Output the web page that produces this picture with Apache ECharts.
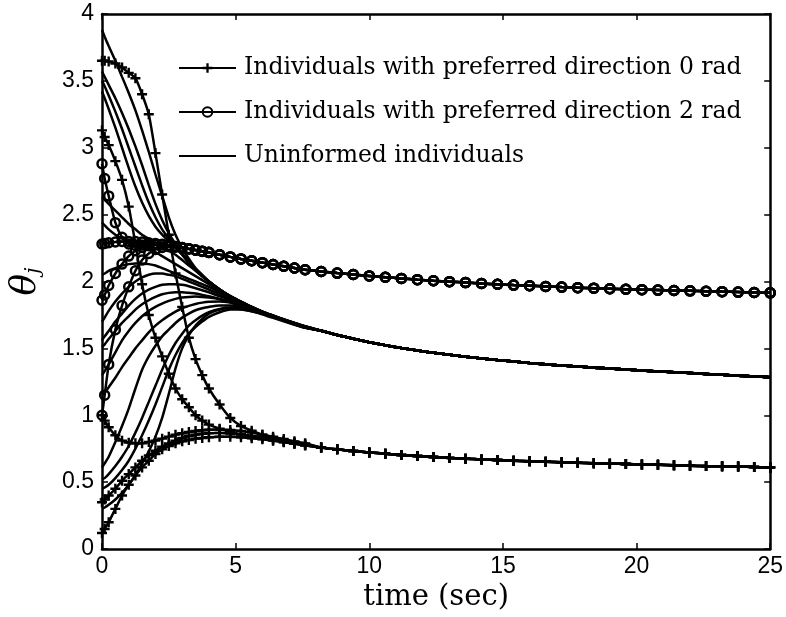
<!DOCTYPE html>
<html><head><meta charset="utf-8">
<script src="https://cdn.jsdelivr.net/npm/echarts@6/dist/echarts.min.js"></script>
<style>html,body{margin:0;padding:0;background:#fff}#c{width:786px;height:617px}</style>
</head><body><div id="c"></div>
<script>
// time samples (sec)
const T_EARLY = [0,0.1,0.25,0.5,0.75,1,1.25,1.5,1.75,2,2.25,2.5,2.75,3,3.25,3.5,3.75,4,4.4,4.8,5.2,5.6,6,6.4,6.8,7.2,7.6];
const T_LATE = [8.2,8.8,9.4,10.0,10.6,11.2,11.8,12.4,13.0,13.6,14.2,14.8,15.4,16.0,16.6,17.2,17.8,18.4,19.0,19.6,20.2,20.8,21.4,22.0,22.6,23.2,23.8,24.4,25.0];

// group tails after consensus (values at T_LATE)
const UNINF_TAIL = [1.632,1.6,1.572,1.546,1.523,1.503,1.484,1.467,1.452,1.438,1.425,1.413,1.402,1.391,1.381,1.372,1.364,1.356,1.349,1.342,1.335,1.328,1.322,1.316,1.309,1.302,1.296,1.29,1.284];
const PLUS_TAIL = [0.758,0.745,0.733,0.722,0.712,0.703,0.695,0.688,0.681,0.675,0.67,0.665,0.66,0.656,0.652,0.648,0.644,0.641,0.638,0.635,0.632,0.629,0.626,0.623,0.62,0.618,0.616,0.613,0.61];
const CIRC_TAIL = [2.075,2.063,2.052,2.042,2.032,2.023,2.014,2.006,1.999,1.992,1.985,1.979,1.973,1.968,1.963,1.958,1.954,1.95,1.946,1.942,1.939,1.936,1.933,1.93,1.927,1.924,1.921,1.918,1.915];

// informed, preferred direction 0 rad (values at T_EARLY)
const P1 = [3.65,3.65,3.645,3.63,3.6,3.56,3.52,3.4,3.25,2.96,2.65,2.35,2.06,1.81,1.58,1.42,1.3,1.2,1.08,0.98,0.92,0.885,0.855,0.83,0.81,0.79,0.775];
const P2 = [3.13,3.08,3.02,2.9,2.76,2.56,2.28,1.98,1.75,1.58,1.44,1.31,1.2,1.12,1.06,1.0,0.96,0.93,0.9,0.875,0.858,0.843,0.828,0.814,0.8,0.787,0.775];
const P3 = [1.0,0.96,0.91,0.85,0.81,0.795,0.79,0.79,0.8,0.81,0.825,0.84,0.855,0.865,0.875,0.882,0.888,0.892,0.893,0.89,0.882,0.87,0.855,0.84,0.822,0.805,0.79];
const P4 = [0.12,0.15,0.2,0.3,0.4,0.48,0.55,0.61,0.66,0.71,0.745,0.77,0.79,0.805,0.815,0.825,0.83,0.835,0.84,0.84,0.835,0.828,0.82,0.81,0.798,0.786,0.775];
const P5 = [0.35,0.37,0.4,0.45,0.51,0.56,0.61,0.66,0.7,0.735,0.765,0.79,0.81,0.83,0.845,0.855,0.862,0.866,0.868,0.864,0.856,0.846,0.835,0.822,0.81,0.797,0.785];

// informed, preferred direction 2 rad
const C1 = [2.28,2.285,2.29,2.295,2.3,2.3,2.3,2.295,2.29,2.285,2.278,2.27,2.262,2.254,2.245,2.236,2.227,2.218,2.2,2.184,2.169,2.155,2.141,2.127,2.114,2.101,2.088];
const C2 = [2.88,2.77,2.64,2.44,2.33,2.28,2.27,2.272,2.275,2.277,2.274,2.268,2.26,2.252,2.244,2.235,2.226,2.217,2.2,2.184,2.169,2.155,2.141,2.127,2.114,2.101,2.088];
const C3 = [1.0,1.15,1.38,1.64,1.82,1.96,2.08,2.16,2.21,2.24,2.255,2.26,2.257,2.25,2.243,2.234,2.225,2.216,2.2,2.184,2.169,2.155,2.141,2.127,2.114,2.101,2.088];
const C4 = [1.86,1.9,1.97,2.06,2.13,2.19,2.23,2.255,2.268,2.274,2.274,2.269,2.262,2.254,2.245,2.236,2.227,2.218,2.2,2.184,2.169,2.155,2.141,2.127,2.114,2.101,2.088];

// uninformed individuals
const U1 = [3.88,3.83,3.76,3.65,3.53,3.41,3.28,3.13,2.97,2.8,2.64,2.48,2.35,2.25,2.17,2.1,2.05,2.0,1.94,1.89,1.85,1.81,1.775,1.745,1.715,1.69,1.665];
const U2 = [3.57,3.53,3.47,3.37,3.26,3.14,3.01,2.87,2.72,2.58,2.46,2.36,2.28,2.21,2.15,2.09,2.04,2.0,1.94,1.89,1.85,1.81,1.775,1.745,1.715,1.688,1.66];
const U3 = [3.5,3.46,3.39,3.27,3.14,3.0,2.86,2.72,2.59,2.48,2.39,2.32,2.26,2.2,2.14,2.09,2.04,2.0,1.94,1.89,1.848,1.81,1.775,1.743,1.713,1.686,1.66];
const U4 = [3.42,3.37,3.29,3.15,3.0,2.85,2.71,2.59,2.49,2.41,2.35,2.3,2.25,2.2,2.14,2.09,2.04,2.0,1.94,1.89,1.845,1.806,1.772,1.741,1.712,1.685,1.66];
const U5 = [2.63,2.61,2.58,2.53,2.48,2.43,2.39,2.35,2.32,2.29,2.26,2.23,2.2,2.16,2.12,2.08,2.04,2.0,1.94,1.89,1.845,1.805,1.77,1.74,1.712,1.685,1.658];
const U6 = [2.44,2.42,2.39,2.35,2.32,2.3,2.28,2.26,2.24,2.22,2.19,2.16,2.13,2.1,2.07,2.04,2.01,1.98,1.93,1.88,1.84,1.8,1.765,1.735,1.708,1.682,1.657];
const U7 = [2.05,2.06,2.08,2.1,2.12,2.13,2.135,2.135,2.13,2.12,2.1,2.08,2.06,2.04,2.02,2.0,1.98,1.96,1.92,1.88,1.84,1.805,1.77,1.74,1.712,1.684,1.657];
const U8 = [1.7,1.73,1.78,1.85,1.91,1.96,2.0,2.03,2.05,2.06,2.06,2.05,2.04,2.02,2.0,1.98,1.96,1.94,1.905,1.87,1.835,1.8,1.767,1.737,1.709,1.682,1.656];
const U9 = [1.56,1.59,1.63,1.7,1.76,1.82,1.87,1.91,1.94,1.96,1.975,1.98,1.98,1.975,1.965,1.95,1.935,1.92,1.89,1.86,1.826,1.795,1.764,1.735,1.707,1.68,1.655];
const U10 = [1.51,1.53,1.57,1.63,1.69,1.74,1.79,1.83,1.86,1.885,1.905,1.915,1.92,1.92,1.915,1.91,1.9,1.89,1.87,1.845,1.815,1.785,1.755,1.728,1.702,1.677,1.654];
const U11 = [1.3,1.33,1.38,1.47,1.56,1.63,1.69,1.74,1.78,1.81,1.835,1.855,1.87,1.88,1.885,1.887,1.885,1.88,1.868,1.85,1.826,1.799,1.77,1.742,1.715,1.688,1.656];
const U12 = [1.15,1.17,1.21,1.28,1.36,1.43,1.5,1.56,1.62,1.67,1.71,1.745,1.775,1.8,1.818,1.832,1.842,1.848,1.85,1.842,1.825,1.8,1.774,1.746,1.718,1.69,1.656];
const U13 = [0.61,0.64,0.69,0.8,0.92,1.05,1.2,1.34,1.44,1.52,1.59,1.64,1.69,1.73,1.76,1.785,1.8,1.81,1.82,1.82,1.81,1.79,1.765,1.74,1.715,1.69,1.665];
const U14 = [0.52,0.53,0.56,0.62,0.69,0.77,0.87,0.98,1.1,1.22,1.34,1.45,1.54,1.61,1.67,1.71,1.745,1.77,1.795,1.805,1.8,1.785,1.762,1.738,1.713,1.688,1.663];
const U15 = [0.45,0.46,0.48,0.53,0.59,0.66,0.75,0.85,0.96,1.08,1.21,1.34,1.45,1.54,1.61,1.66,1.7,1.735,1.77,1.79,1.79,1.778,1.758,1.735,1.71,1.686,1.662];
const U16 = [0.3,0.31,0.33,0.37,0.42,0.48,0.55,0.64,0.73,0.84,0.98,1.16,1.35,1.5,1.6,1.67,1.72,1.76,1.79,1.8,1.793,1.778,1.758,1.735,1.71,1.686,1.662];

const NAME_P = 'Individuals with preferred direction 0 rad';
const NAME_C = 'Individuals with preferred direction 2 rad';
const NAME_U = 'Uninformed individuals';

const X_TICKS = [0,5,10,15,20,25];
const Y_TICKS = [0,0.5,1,1.5,2,2.5,3,3.5,4];

const T_ALL = T_EARLY.concat(T_LATE);
function traj(early, tail) {
  const v = early.concat(tail);
  return T_ALL.map((t, i) => [t, v[i]]);
}

const PLUS = 'path://M3.8,0H6.2V3.8H10V6.2H6.2V10H3.8V6.2H0V3.8H3.8Z';
const LW = 2.5;
const series = [];
[U1,U2,U3,U4,U5,U6,U7,U8,U9,U10,U11,U12,U13,U14,U15,U16].forEach(a => series.push({
  type: 'line', name: NAME_U, data: traj(a, UNINF_TAIL), symbol: 'none', smooth: 0.2,
  lineStyle: {color: '#000', width: LW}, itemStyle: {color: '#000'}, z: 2, silent: true
}));
[P1,P2,P3,P4,P5].forEach(a => series.push({
  type: 'line', name: NAME_P, data: traj(a, PLUS_TAIL), symbol: PLUS, symbolSize: 10, showSymbol: true, smooth: 0.2,
  lineStyle: {color: '#000', width: LW}, itemStyle: {color: '#000'}, z: 3, silent: true
}));
[C1,C2,C3,C4].forEach(a => series.push({
  type: 'line', name: NAME_C, data: traj(a, CIRC_TAIL), symbol: 'circle', symbolSize: 9, showSymbol: true, smooth: 0.2,
  lineStyle: {color: '#000', width: LW}, itemStyle: {color: 'rgba(0,0,0,0)', borderColor: '#000', borderWidth: 2.5}, z: 4, silent: true
}));

const axisLine = {show: true, onZero: false, lineStyle: {color: '#000', width: 2.5}};
const axisTick = {show: true, inside: true, length: 6, lineStyle: {color: '#000', width: 1.5}};
const tickFont = {color: '#000', fontFamily: 'Liberation Sans', fontSize: 23};

const chart = echarts.init(document.getElementById('c'), null, {renderer: 'canvas'});
chart.setOption({
  animation: false,
  backgroundColor: '#fff',
  grid: {left: 91, right: 15, top: 14, bottom: 68},
  legend: {
    left: 173, top: 51, orient: 'vertical', itemWidth: 57, itemHeight: 12, itemGap: 20,
    selectedMode: false,
    data: [
      {name: NAME_P},
      {name: NAME_C},
      {name: NAME_U, itemStyle: {color: 'rgba(0,0,0,0)', borderWidth: 0, opacity: 0}}
    ],
    textStyle: {fontFamily: 'DejaVu Serif', fontSize: 23.5, color: '#000', padding: [0, 0, 0, 3]}
  },
  xAxis: [
    {type: 'value', min: X_TICKS[0], max: X_TICKS[X_TICKS.length-1], interval: X_TICKS[1]-X_TICKS[0], position: 'bottom',
     axisLine, axisTick, splitLine: {show: false},
     axisLabel: Object.assign({margin: 6}, tickFont),
     name: 'time (sec)', nameLocation: 'middle', nameGap: 34,
     nameTextStyle: {fontFamily: 'DejaVu Serif', fontSize: 29, color: '#000'}},
    {type: 'value', min: X_TICKS[0], max: X_TICKS[X_TICKS.length-1], interval: X_TICKS[1]-X_TICKS[0], position: 'top',
     axisLine, axisTick, splitLine: {show: false}, axisLabel: {show: false}}
  ],
  yAxis: [
    {type: 'value', min: Y_TICKS[0], max: Y_TICKS[Y_TICKS.length-1], interval: Y_TICKS[1]-Y_TICKS[0], position: 'left',
     axisLine, axisTick, splitLine: {show: false},
     axisLabel: Object.assign({margin: 8}, tickFont),
     name: '{t|θ}{s|j}', nameLocation: 'middle', nameGap: 58, nameRotate: 90,
     nameTextStyle: {rich: {
       t: {fontFamily: 'DejaVu Serif', fontStyle: 'italic', fontSize: 36, color: '#000', verticalAlign: 'bottom', lineHeight: 40},
       s: {fontFamily: 'DejaVu Serif', fontStyle: 'italic', fontSize: 20, color: '#000', verticalAlign: 'bottom', lineHeight: 30}
     }}},
    {type: 'value', min: Y_TICKS[0], max: Y_TICKS[Y_TICKS.length-1], interval: Y_TICKS[1]-Y_TICKS[0], position: 'right',
     axisLine, axisTick, splitLine: {show: false}, axisLabel: {show: false}}
  ],
  series
});
</script></body></html>
